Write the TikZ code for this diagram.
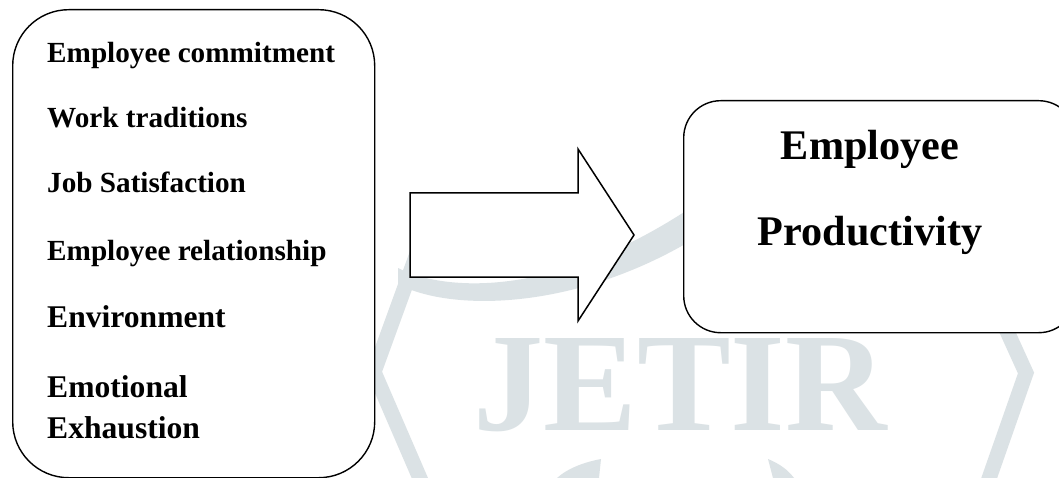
\documentclass[tikz,border=0pt]{standalone}
\usepackage{fontspec}
\setmainfont{Liberation Serif}
\definecolor{wm}{RGB}{219,226,229}
\tikzset{
  panel/.style={draw=black, fill=white, line width=1.4pt, inner sep=0pt, anchor=north west},
  itemA/.style={anchor=base west, inner sep=0pt, font=\fontsize{29.2}{34}\selectfont\bfseries},
  itemB/.style={anchor=base west, inner sep=0pt, font=\fontsize{31.6}{36}\selectfont\bfseries},
  outtext/.style={anchor=base, inner sep=0pt, font=\fontsize{42.2}{48}\selectfont\bfseries},
  wmstroke/.style={draw=wm, line width=15pt, line join=miter},
}
\begin{document}
\begin{tikzpicture}[x=1pt,y=-1pt]
\useasboundingbox (0,0) rectangle (1059,478);
\fill[white] (0,0) rectangle (1059,478);
% watermark
\node[anchor=base west, inner sep=0pt, text=wm, font=\fontsize{140.5}{140}\selectfont\bfseries] (wmtext) at (473,430) {JETIR};
\draw[wmstroke] (422,240) -- (374,372) -- (425,490);
\draw[wmstroke] (1001,318) -- (1026,373) -- (985,490);
\fill[wm] (398,268) .. controls (445,292) and (560,300) .. (705,198) -- (705,232) .. controls (580,312) and (450,312) .. (398,284) -- cycle;
\fill[wm] (557,478) .. controls (568,468) and (585,462) .. (601,459) -- (599,478) -- cycle;
\fill[wm] (768,459) .. controls (780,464) and (788,470) .. (794,478) -- (773,478) -- cycle;
% left panel
\node[panel, rounded corners=56pt, minimum width=362pt, minimum height=468pt] (factors) at (12,9) {};
\node[itemA] (f1) at (47,63) {Employee commitment};
\node[itemA] (f2) at (47,128) {Work traditions};
\node[itemA] (f3) at (47,193) {Job Satisfaction};
\node[itemA] (f4) at (47,260) {Employee relationship};
\node[itemB] (f5) at (47,327) {Environment};
\node[itemB] (f6) at (47,397) {Emotional};
\node[itemB] (f7) at (47,438) {Exhaustion};
% arrow
\draw[black, fill=white, line width=1.5pt, line join=miter]
  (410,193) -- (578,193) -- (578,149) -- (634,235) -- (578,321) -- (578,277) -- (410,277) -- cycle;
% right panel
\node[panel, rounded corners=37pt, minimum width=392pt, minimum height=232pt] (outcome) at (683,100) {};
\node[outtext] (o1) at (870,160) {Employee};
\node[outtext] (o2) at (870,245) {Productivity};
\end{tikzpicture}
\end{document}
